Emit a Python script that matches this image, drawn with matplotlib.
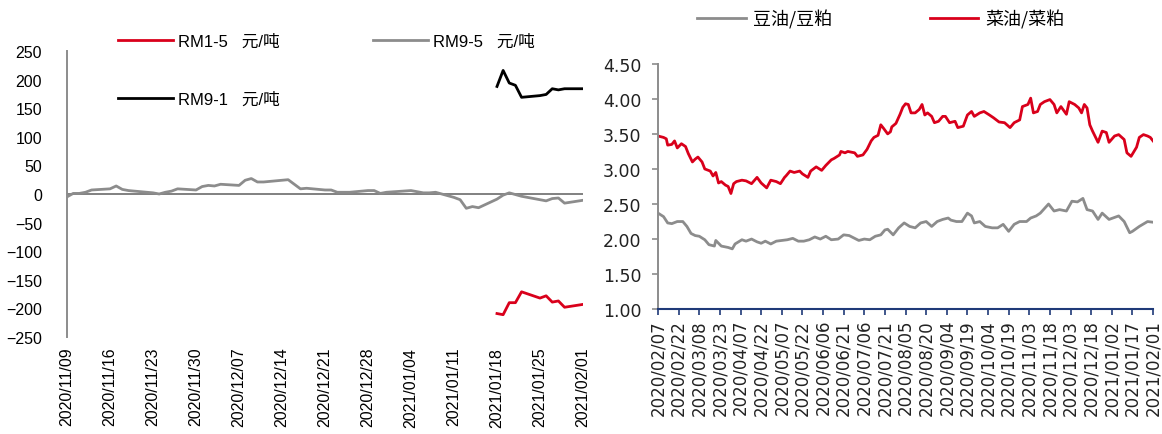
import pandas as pd
import matplotlib
matplotlib.use("Agg")
import matplotlib.pyplot as plt
import matplotlib.dates as mdates
from matplotlib import font_manager

# ---------------- Left chart data: 菜粕 spreads (元/吨) ----------------
rm_dates = [
    "2020-11-09", "2020-11-10", "2020-11-11", "2020-11-12", "2020-11-13",
    "2020-11-16", "2020-11-17", "2020-11-18", "2020-11-19", "2020-11-20",
    "2020-11-23", "2020-11-24", "2020-11-25", "2020-11-26", "2020-11-27",
    "2020-11-30", "2020-12-01", "2020-12-02", "2020-12-03", "2020-12-04",
    "2020-12-07", "2020-12-08", "2020-12-09", "2020-12-10", "2020-12-11",
    "2020-12-14", "2020-12-15", "2020-12-16", "2020-12-17", "2020-12-18",
    "2020-12-21", "2020-12-22", "2020-12-23", "2020-12-24", "2020-12-25",
    "2020-12-28", "2020-12-29", "2020-12-30", "2020-12-31",
    "2021-01-04", "2021-01-05", "2021-01-06", "2021-01-07", "2021-01-08",
    "2021-01-11", "2021-01-12", "2021-01-13", "2021-01-14", "2021-01-15",
    "2021-01-18", "2021-01-19", "2021-01-20", "2021-01-21", "2021-01-22",
    "2021-01-25", "2021-01-26", "2021-01-27", "2021-01-28", "2021-01-29",
    "2021-02-01",
]
rm9_5 = [
    -5, 1, 1, 3, 7,
    9, 14, 8, 6, 5,
    2, 0, 3, 5, 9,
    7, 13, 15, 14, 17,
    15, 24, 27, 21, 21,
    24, 25, 17, 9, 10,
    7, 7, 3, 3, 3,
    6, 6, 1, 3,
    6, 4, 2, 2, 3,
    -6, -10, -25, -22, -24,
    -9, -2, 2, -1, -4,
    -10, -12, -8, -7, -16,
    -11,
]
late_dates = [
    "2021-01-18", "2021-01-19", "2021-01-20", "2021-01-21", "2021-01-22",
    "2021-01-25", "2021-01-26", "2021-01-27", "2021-01-28", "2021-01-29",
    "2021-02-01",
]
rm1_5 = [-209, -211, -190, -190, -171, -182, -178, -189, -187, -198, -193]
rm9_1 = [188, 216, 194, 190, 169, 172, 174, 184, 182, 184, 184]

left_ticks = pd.date_range("2020-11-09", "2021-02-01", freq="7D")

# ---------------- Right chart data: 油粕比 ----------------
ratio_start = "2020-02-07"
soy_days = [0, 4, 7, 10, 14, 18, 21, 24, 27, 30, 34, 37, 41, 42, 46, 51, 54, 56,
            61, 64, 68, 72, 75, 78, 82, 86, 90, 94, 98, 102, 106, 110, 114, 118,
            122, 126, 131, 135, 139, 143, 146, 150, 154, 158, 162, 165, 167, 171,
            175, 179, 183, 187, 191, 195, 199, 203, 207, 211, 213, 217, 221, 225,
            228, 230, 234, 238, 243, 247, 251, 255, 259, 263, 268, 271, 275, 278,
            284, 288, 292, 297, 301, 305, 309, 312, 316, 320, 323, 328, 335, 339,
            343, 345, 350, 356, 360]
soy_ratio = [2.37, 2.32, 2.23, 2.22, 2.25, 2.25, 2.18, 2.08, 2.05, 2.04, 1.99, 1.92,
             1.90, 1.98, 1.90, 1.88, 1.86, 1.93, 1.99, 1.97, 2.00, 1.96, 1.94, 1.97,
             1.93, 1.97, 1.98, 1.99, 2.01, 1.97, 1.97, 1.99, 2.03, 2.00, 2.04, 1.99,
             2.00, 2.06, 2.05, 2.01, 1.98, 2.00, 1.99, 2.04, 2.06, 2.13, 2.14, 2.06,
             2.16, 2.23, 2.18, 2.16, 2.23, 2.25, 2.18, 2.25, 2.28, 2.30, 2.27, 2.25,
             2.25, 2.37, 2.33, 2.23, 2.25, 2.18, 2.16, 2.16, 2.21, 2.11, 2.21, 2.25,
             2.25, 2.30, 2.33, 2.37, 2.50, 2.40, 2.42, 2.40, 2.54, 2.53, 2.58, 2.42,
             2.40, 2.28, 2.37, 2.28, 2.33, 2.25, 2.09, 2.11, 2.18, 2.25, 2.24]
rape_days = [0, 4, 6, 7, 10, 12, 14, 17, 20, 22, 25, 27, 29, 32, 34, 38, 40, 42, 44,
             46, 49, 51, 53, 55, 57, 61, 64, 68, 72, 75, 79, 82, 86, 89, 92, 93, 96,
             99, 103, 105, 109, 111, 115, 119, 122, 126, 128, 132, 133, 136, 138,
             143, 145, 149, 152, 155, 157, 160, 162, 164, 167, 169, 170, 173, 176,
             178, 180, 182, 184, 187, 190, 192, 194, 196, 199, 201, 204, 207, 209,
             212, 216, 218, 222, 225, 228, 230, 234, 237, 241, 244, 248, 252, 256,
             259, 263, 265, 269, 271, 273, 276, 278, 281, 285, 288, 290, 293, 297,
             299, 303, 306, 308, 310, 312, 314, 316, 320, 323, 326, 328, 332, 335,
             339, 341, 344, 348, 350, 353, 356, 358, 360]
rape_ratio = [3.47, 3.45, 3.43, 3.34, 3.35, 3.40, 3.30, 3.36, 3.32, 3.22, 3.10, 3.14,
              3.17, 3.10, 3.00, 2.97, 2.90, 2.95, 2.80, 2.82, 2.77, 2.75, 2.65, 2.79,
              2.82, 2.84, 2.83, 2.79, 2.88, 2.80, 2.73, 2.84, 2.82, 2.79, 2.88, 2.90,
              2.97, 2.95, 2.97, 2.93, 2.88, 2.97, 3.03, 2.98, 3.05, 3.13, 3.15, 3.20,
              3.25, 3.23, 3.25, 3.23, 3.18, 3.20, 3.28, 3.40, 3.45, 3.48, 3.63, 3.58,
              3.50, 3.53, 3.60, 3.65, 3.78, 3.88, 3.93, 3.92, 3.80, 3.80, 3.85, 3.92,
              3.77, 3.80, 3.75, 3.66, 3.68, 3.75, 3.75, 3.66, 3.68, 3.59, 3.61, 3.77,
              3.82, 3.75, 3.80, 3.82, 3.77, 3.73, 3.67, 3.66, 3.59, 3.66, 3.70, 3.89,
              3.92, 4.01, 3.80, 3.82, 3.92, 3.96, 3.99, 3.92, 3.80, 3.89, 3.78, 3.96,
              3.92, 3.87, 3.80, 3.92, 3.87, 3.63, 3.54, 3.38, 3.54, 3.52, 3.38, 3.47,
              3.49, 3.42, 3.23, 3.18, 3.31, 3.45, 3.49, 3.47, 3.45, 3.40]

right_ticks = pd.date_range("2020-02-07", "2021-02-01", freq="15D")
right_yticks = [1.0, 1.5, 2.0, 2.5, 3.0, 3.5, 4.0, 4.5]

# ---------------- Fonts / colours ----------------
installed = set(font_manager.get_font_names())
narrow = "Liberation Sans Narrow" if "Liberation Sans Narrow" in installed else "Liberation Sans"
cjk = "Noto Sans CJK SC"
RED = "#d9001b"
GRAY = "#8c8c8c"
NAVY = "#1f3a78"

fig = plt.figure(figsize=(11.62, 4.35), dpi=100)

# ---------------- Left chart ----------------
ax1 = fig.add_axes([0.0577, 0.223, 0.444, 0.6575])
d_all = pd.to_datetime(rm_dates)
d_late = pd.to_datetime(late_dates)
l15, = ax1.plot(d_late, rm1_5, color=RED, lw=2.0, label="RM1-5   元/吨")
l91, = ax1.plot(d_late, rm9_1, color="black", lw=2.0, label="RM9-1   元/吨")
l95, = ax1.plot(d_all, rm9_5, color=GRAY, lw=2.0, label="RM9-5   元/吨")
ax1.axhline(0, color="#808080", lw=1.4, zorder=1)
ax1.set_ylim(-250, 250)
ax1.set_yticks(range(-250, 251, 50))
ax1.set_xlim(pd.Timestamp("2020-11-09"), pd.Timestamp("2021-02-01"))
ax1.set_xticks(left_ticks)
ax1.xaxis.set_major_formatter(mdates.DateFormatter("%Y/%m/%d"))
for s in ["top", "right", "bottom"]:
    ax1.spines[s].set_visible(False)
ax1.spines["left"].set_color("#8c8c8c")
ax1.spines["left"].set_linewidth(1.4)
ax1.tick_params(axis="y", length=0, pad=18, labelsize=11.5)
ax1.tick_params(axis="x", length=0, pad=7, labelsize=11.5, rotation=90)
for lbl in ax1.get_xticklabels() + ax1.get_yticklabels():
    lbl.set_family("Liberation Sans")

fig.legend(handles=[l15, l91, l95], ncol=2, loc="upper left",
           bbox_to_anchor=(0.1015, 0.921), frameon=False, borderpad=0,
           borderaxespad=0, handlelength=3.3, handletextpad=0.3,
           columnspacing=5.6, labelspacing=2.55,
           prop={"family": [narrow, cjk], "size": 12})

# ---------------- Right chart ----------------
ax2 = fig.add_axes([0.5663, 0.287, 0.426, 0.564])
t0 = pd.Timestamp(ratio_start)
soy_dates = t0 + pd.to_timedelta(soy_days, unit="D")
rape_dates = t0 + pd.to_timedelta(rape_days, unit="D")
ls, = ax2.plot(soy_dates, soy_ratio, color=GRAY, lw=2.0, label="豆油/豆粕")
lr, = ax2.plot(rape_dates, rape_ratio, color=RED, lw=2.0, label="菜油/菜粕")
ax2.set_ylim(1.0, 4.5)
ax2.set_yticks(right_yticks)
ax2.yaxis.set_major_formatter(matplotlib.ticker.FormatStrFormatter("%.2f"))
ax2.set_xlim(right_ticks[0], right_ticks[-1])
ax2.set_xticks(right_ticks)
ax2.xaxis.set_major_formatter(mdates.DateFormatter("%Y/%m/%d"))
ax2.spines["top"].set_visible(False)
ax2.spines["right"].set_visible(False)
ax2.spines["left"].set_color("#8c8c8c")
ax2.spines["left"].set_linewidth(1.4)
ax2.spines["bottom"].set_color(NAVY)
ax2.spines["bottom"].set_linewidth(1.5)
ax2.tick_params(axis="y", length=4, width=1.2, color="#8c8c8c", pad=8, labelsize=12.5)
ax2.tick_params(axis="x", length=4, width=1.2, color=NAVY, pad=3, labelsize=12, rotation=90)
for lbl in ax2.get_xticklabels() + ax2.get_yticklabels():
    lbl.set_family("DejaVu Sans")
    lbl.set_color("#222222")

fig.legend(handles=[ls, lr], ncol=2, loc="upper left",
           bbox_to_anchor=(0.5998, 0.976), frameon=False, borderpad=0,
           borderaxespad=0, handlelength=2.7, handletextpad=0.4,
           columnspacing=5.4, prop={"family": [cjk], "size": 13})

fig.savefig("out.png", dpi=100)
